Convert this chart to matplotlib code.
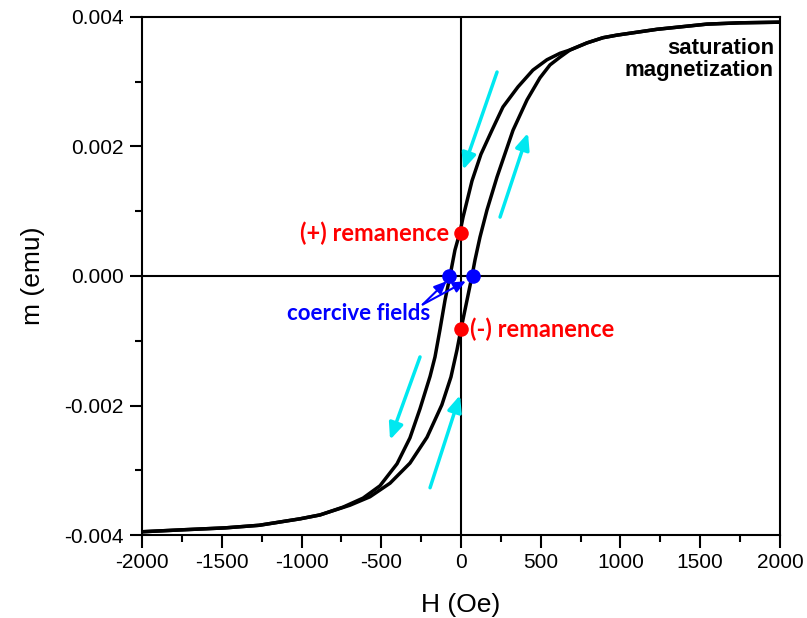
import numpy as np
import matplotlib
matplotlib.use('Agg')
import matplotlib.pyplot as plt
from matplotlib.ticker import MultipleLocator, FormatStrFormatter

plt.rcParams.update({'font.family': ['Liberation Sans', 'DejaVu Sans'],
                     'font.size': 15,
                     'axes.unicode_minus': False})

# descending branch (from +H_max to -H_max)
h_down = [2000, 1749, 1542, 1229, 978, 890, 790, 683, 621, 539, 451, 357, 263,
          194, 125, 69, 13, -6, -38, -69, -100, -132, -163, -194, -257, -320,
          -401, -508, -614, -740, -884, -1009, -1266, -1480, -1749, -2000]
m_down = [0.00392, 0.00391, 0.00389, 0.00381, 0.00372, 0.00368, 0.00360, 0.00349,
          0.00344, 0.00334, 0.00318, 0.00292, 0.00261, 0.00225, 0.00188, 0.00147,
          0.00091, 0.00068, 0.00040, 0.0, -0.00037, -0.00083, -0.00125, -0.00155,
          -0.00205, -0.00250, -0.00290, -0.00324, -0.00343, -0.00357, -0.00369,
          -0.00375, -0.00385, -0.00389, -0.00392, -0.00395]

# ascending branch (from -H_max to +H_max)
h_up = [-2000, -1749, -1480, -1266, -1009, -884, -696, -571, -445, -320, -213,
        -120, -63, -25, 0, 38, 69, 88, 119, 163, 226, 326, 414, 495, 558,
        621, 683, 790, 890, 978, 1229, 1542, 1749, 2000]
m_up = [-0.00395, -0.00392, -0.00389, -0.00385, -0.00375, -0.00369, -0.00354,
        -0.00341, -0.00320, -0.00289, -0.00249, -0.00199, -0.00156, -0.00114,
        -0.00082, -0.00037, 0.0, 0.00025, 0.00060, 0.00102, 0.00153,
        0.00225, 0.00272, 0.00306, 0.00326, 0.00338, 0.00349, 0.00360, 0.00368,
        0.00372, 0.00381, 0.00389, 0.00391, 0.00392]

rem_m = [0.00066, -0.00082]
coer_h = [-75, 75]

# cyan direction arrows: (tail H, tail m, head H, head m)
arrows = [(226, 0.00315, 13, 0.00164),
          (245, 0.00091, 420, 0.00221),
          (-257, -0.00125, -445, -0.00253),
          (-194, -0.00327, -6, -0.00184)]

fig = plt.figure(figsize=(8.07, 6.18), dpi=100)
ax = fig.add_axes([0.176, 0.1343, 0.7905, 0.8382])

ax.axhline(0, color='black', lw=1.5, zorder=1)
ax.axvline(0, color='black', lw=1.5, zorder=1)

ax.plot(h_down, m_down, color='black', lw=2.5, zorder=2, solid_joinstyle='round')
ax.plot(h_up, m_up, color='black', lw=2.5, zorder=2, solid_joinstyle='round')

for x0, y0, x1, y1 in arrows:
    ax.annotate('', xy=(x1, y1), xytext=(x0, y0),
                arrowprops=dict(arrowstyle='-|>,head_length=0.65,head_width=0.28',
                                color='#00E8F0', lw=2.5, shrinkA=0, shrinkB=0),
                zorder=3)

ax.scatter([0, 0], rem_m, s=110, color='#FF0000', zorder=5, linewidths=0)
ax.scatter(coer_h, [0, 0], s=110, color='#0000FF', zorder=5, linewidths=0)

bold = dict(family=['Lato', 'DejaVu Sans'], weight='bold')
ax.text(-75, rem_m[0], '(+) remanence', color='#FF0000', ha='right', va='center',
        fontsize=17, **bold)
ax.text(55, rem_m[1], '(-) remanence', color='#FF0000', ha='left', va='center',
        fontsize=17, **bold)
ax.text(-1090, -0.00058, 'coercive fields', color='#0000FF', ha='left', va='center',
        fontsize=16, **bold)
for hx in coer_h:
    ax.annotate('', xy=(hx - 15 if hx < 0 else hx - 45, -0.00008),
                xytext=(-240, -0.00044),
                arrowprops=dict(arrowstyle='-|>,head_length=0.5,head_width=0.22',
                                color='#0000FF', lw=1.5, shrinkA=0, shrinkB=0),
                zorder=4)

ax.text(1962, 0.00334, 'saturation\nmagnetization', ha='right', va='center',
        fontsize=16, weight='bold', linespacing=1.05)

ax.set_xlim(-2000, 2000)
ax.set_ylim(-0.004, 0.004)
ax.xaxis.set_major_locator(MultipleLocator(500))
ax.xaxis.set_minor_locator(MultipleLocator(250))
ax.yaxis.set_major_locator(MultipleLocator(0.002))
ax.yaxis.set_minor_locator(MultipleLocator(0.001))
ax.yaxis.set_major_formatter(FormatStrFormatter('%.3f'))
ax.tick_params(which='major', direction='out', length=9, width=1.5, pad=4,
               top=False, right=False)
ax.tick_params(which='minor', direction='out', length=5, width=1.5,
               top=False, right=False)
for s in ax.spines.values():
    s.set_linewidth(1.5)

ax.set_xlabel('H (Oe)', fontsize=19, labelpad=15)
ax.set_ylabel('m (emu)', fontsize=19, labelpad=14)

fig.savefig('out.png', dpi=100)
